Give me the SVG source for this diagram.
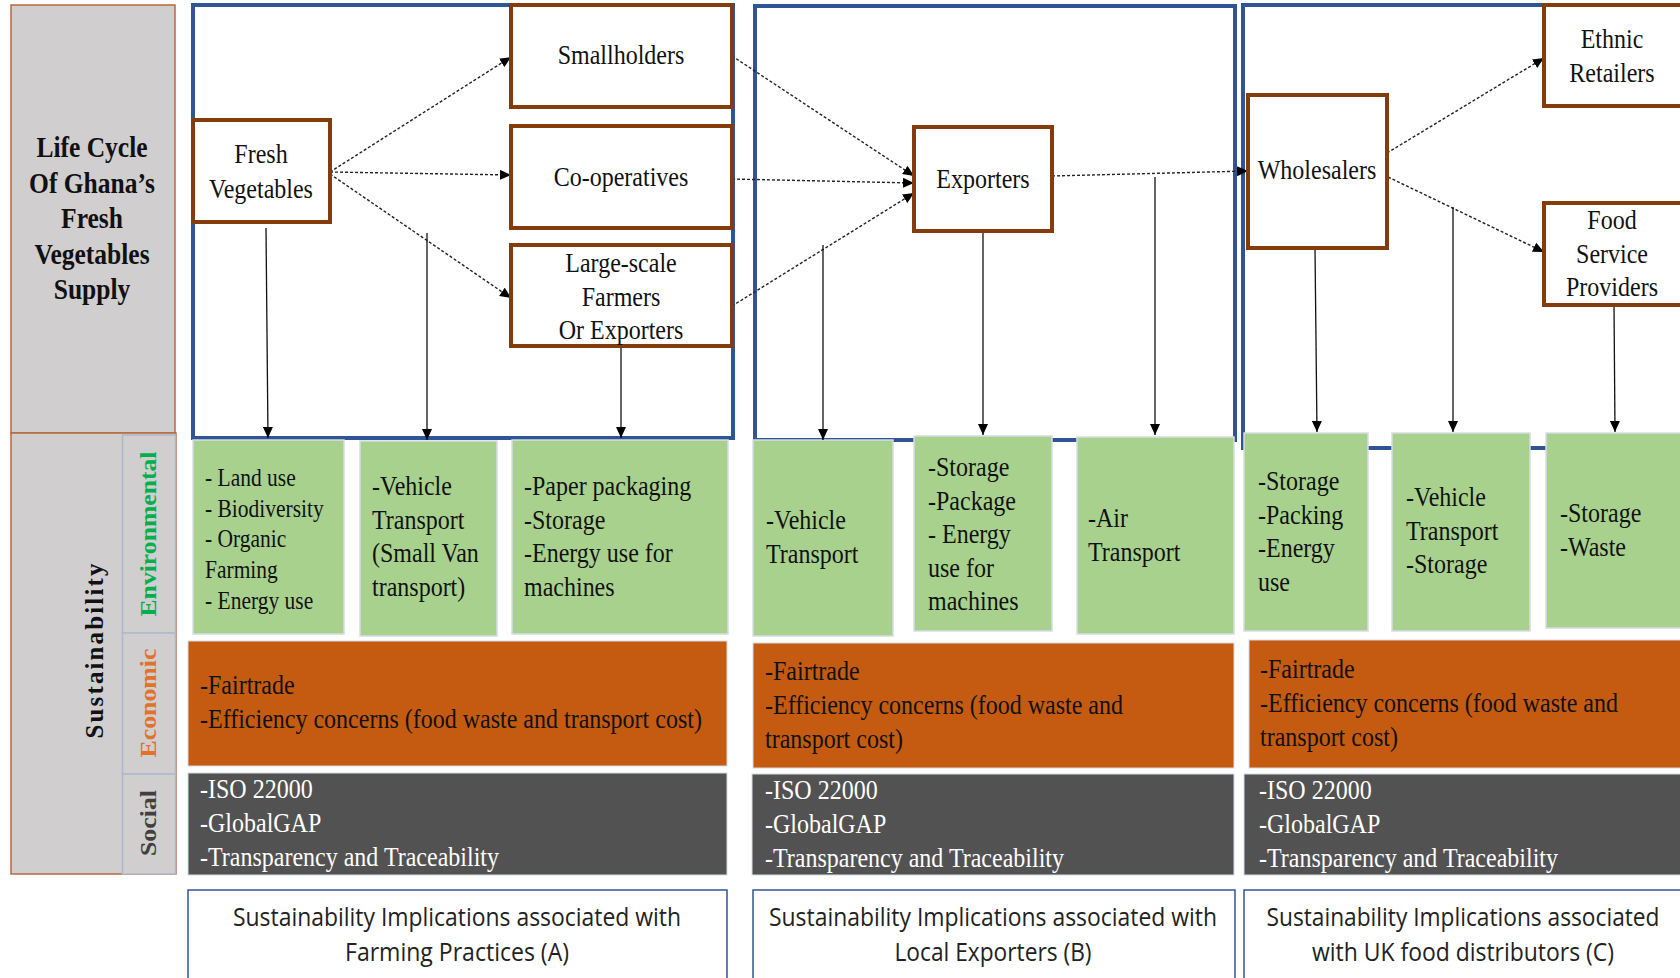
<svg xmlns="http://www.w3.org/2000/svg" width="1680" height="978" viewBox="0 0 1680 978">
<style>
.t{font-family:"Liberation Serif","Times New Roman",serif;font-size:24px;fill:#111}
.tb{font-family:"Liberation Serif","Times New Roman",serif;font-weight:bold;fill:#111}
.w{fill:#fff}
.cap{font-family:"Open Sans","Noto Sans",sans-serif;font-size:22px;fill:#222}
.node{fill:#fff;stroke:#843C0C;stroke-width:4}
.zone{fill:none;stroke:#2F5597;stroke-width:4}
.green{fill:#A9D18E;stroke:#D6DCE5;stroke-width:1.5}
.orange{fill:#C55A11;stroke:#D6DCE5;stroke-width:1}
.dark{fill:#525252;stroke:#D6DCE5;stroke-width:1}
.capbox{fill:#fff;stroke:#2F5597;stroke-width:1.5}
.dash{fill:none;stroke:#222;stroke-width:1.4;stroke-dasharray:3 2;marker-end:url(#ah)}
.solid{fill:none;stroke:#111;stroke-width:1.3;marker-end:url(#ah)}
</style>
<defs>
<marker id="ah" markerUnits="userSpaceOnUse" markerWidth="11" markerHeight="10" refX="11" refY="5" orient="auto">
<path d="M0,0 L11,5 L0,10 z" fill="#000"/>
</marker>
</defs>
<rect x="0" y="0" width="1680" height="978" fill="#fff"/>

<g id="side-panel">
<rect x="11" y="5" width="164" height="428" fill="#D0CECE" stroke="#B86A3C" stroke-width="1.5"/>
<text class="tb" font-size="25.5" text-anchor="middle" transform="translate(92,157) scale(1,1.16)"><tspan x="0" y="0">Life Cycle</tspan><tspan x="0" y="30.7">Of Ghana’s</tspan><tspan x="0" y="61.4">Fresh</tspan><tspan x="0" y="92.1">Vegetables</tspan><tspan x="0" y="122.8">Supply</tspan></text>
<rect x="11" y="433" width="165" height="441" fill="#D0CECE" stroke="#B86A3C" stroke-width="1.5"/>
<rect x="122.5" y="435" width="53" height="198" fill="#D0CECE" stroke="#ADB9CA" stroke-width="1.5"/>
<rect x="122.5" y="633" width="53" height="141" fill="#D0CECE" stroke="#ADB9CA" stroke-width="1.5"/>
<rect x="122.5" y="774" width="53" height="100" fill="#D0CECE" stroke="#ADB9CA" stroke-width="1.5"/>
<text class="tb" font-size="25" text-anchor="middle" textLength="175" transform="translate(103,651) rotate(-90)" x="0" y="0" fill="#1a1a1a">Sustainability</text>
<text class="tb" font-size="23" text-anchor="middle" textLength="165" lengthAdjust="spacingAndGlyphs" transform="translate(156,534) rotate(-90)" x="0" y="0" style="fill:#00B050">Environmental</text>
<text class="tb" font-size="23" text-anchor="middle" textLength="109" lengthAdjust="spacingAndGlyphs" transform="translate(156,703) rotate(-90)" x="0" y="0" style="fill:#E2712B">Economic</text>
<text class="tb" font-size="23" text-anchor="middle" textLength="66" lengthAdjust="spacingAndGlyphs" transform="translate(156,823) rotate(-90)" x="0" y="0" style="fill:#404040">Social</text>
</g>

<g id="zones">
<rect class="zone" x="193" y="5" width="540" height="433"/>
<rect class="zone" x="755" y="6" width="480" height="434"/>
<rect class="zone" x="1243" y="5" width="460" height="443"/>
</g>

<g id="env-impacts">
<g id="env-a1"><rect class="green" x="193" y="440" width="151" height="194"/>
<text class="t" style="font-size:21.5px" transform="translate(205,486) scale(1,1.16)"><tspan x="0" y="0">- Land use</tspan><tspan x="0" y="26.5">- Biodiversity</tspan><tspan x="0" y="53">- Organic</tspan><tspan x="0" y="79.5">Farming</tspan><tspan x="0" y="106">- Energy use</tspan></text></g>
<g id="env-a2"><rect class="green" x="360" y="441" width="137" height="195"/>
<text class="t" transform="translate(372,495) scale(1,1.16)"><tspan x="0" y="0">-Vehicle</tspan><tspan x="0" y="28.9">Transport</tspan><tspan x="0" y="57.8">(Small Van</tspan><tspan x="0" y="86.7">transport)</tspan></text></g>
<g id="env-a3"><rect class="green" x="512" y="440" width="216" height="194"/>
<text class="t" transform="translate(524,495) scale(1,1.16)"><tspan x="0" y="0">-Paper packaging</tspan><tspan x="0" y="28.9">-Storage</tspan><tspan x="0" y="57.8">-Energy use for</tspan><tspan x="0" y="86.7">machines</tspan></text></g>
<g id="env-b1"><rect class="green" x="753" y="440" width="140" height="196"/>
<text class="t" transform="translate(766,529) scale(1,1.16)"><tspan x="0" y="0">-Vehicle</tspan><tspan x="0" y="28.9">Transport</tspan></text></g>
<g id="env-b2"><rect class="green" x="914" y="436" width="138" height="195"/>
<text class="t" transform="translate(928,476) scale(1,1.16)"><tspan x="0" y="0">-Storage</tspan><tspan x="0" y="28.9">-Package</tspan><tspan x="0" y="57.8">- Energy</tspan><tspan x="0" y="86.7">use for</tspan><tspan x="0" y="115.6">machines</tspan></text></g>
<g id="env-b3"><rect class="green" x="1077" y="437" width="157" height="197"/>
<text class="t" transform="translate(1088,527) scale(1,1.16)"><tspan x="0" y="0">-Air</tspan><tspan x="0" y="28.9">Transport</tspan></text></g>
<g id="env-c1"><rect class="green" x="1244" y="433" width="124" height="198"/>
<text class="t" transform="translate(1258,490) scale(1,1.16)"><tspan x="0" y="0">-Storage</tspan><tspan x="0" y="28.9">-Packing</tspan><tspan x="0" y="57.8">-Energy</tspan><tspan x="0" y="86.7">use</tspan></text></g>
<g id="env-c2"><rect class="green" x="1392" y="433" width="138" height="198"/>
<text class="t" transform="translate(1406,506) scale(1,1.16)"><tspan x="0" y="0">-Vehicle</tspan><tspan x="0" y="28.9">Transport</tspan><tspan x="0" y="57.8">-Storage</tspan></text></g>
<g id="env-c3"><rect class="green" x="1546" y="433" width="140" height="195"/>
<text class="t" transform="translate(1560,522) scale(1,1.16)"><tspan x="0" y="0">-Storage</tspan><tspan x="0" y="28.9">-Waste</tspan></text></g>
</g>

<g id="econ-impacts">
<g id="econ-a"><rect class="orange" x="188" y="641" width="539" height="125"/>
<text class="t" transform="translate(200,694) scale(1,1.16)"><tspan x="0" y="0">-Fairtrade</tspan><tspan x="0" y="29.3">-Efficiency concerns (food waste and transport cost)</tspan></text></g>
<g id="econ-b"><rect class="orange" x="753" y="643" width="481" height="125"/>
<text class="t" transform="translate(765,680) scale(1,1.16)"><tspan x="0" y="0">-Fairtrade</tspan><tspan x="0" y="29.3">-Efficiency concerns (food waste and</tspan><tspan x="0" y="58.6">transport cost)</tspan></text></g>
<g id="econ-c"><rect class="orange" x="1249" y="640" width="440" height="128"/>
<text class="t" transform="translate(1260,678) scale(1,1.16)"><tspan x="0" y="0">-Fairtrade</tspan><tspan x="0" y="29.3">-Efficiency concerns (food waste and</tspan><tspan x="0" y="58.6">transport cost)</tspan></text></g>
</g>

<g id="social-impacts">
<g id="soc-a"><rect class="dark" x="188" y="773" width="539" height="102"/>
<text class="t w" transform="translate(200,798) scale(1,1.16)"><tspan x="0" y="0">-ISO 22000</tspan><tspan x="0" y="29.3">-GlobalGAP</tspan><tspan x="0" y="58.6">-Transparency and Traceability</tspan></text></g>
<g id="soc-b"><rect class="dark" x="752" y="774" width="482" height="101"/>
<text class="t w" transform="translate(765,799) scale(1,1.16)"><tspan x="0" y="0">-ISO 22000</tspan><tspan x="0" y="29.3">-GlobalGAP</tspan><tspan x="0" y="58.6">-Transparency and Traceability</tspan></text></g>
<g id="soc-c"><rect class="dark" x="1244" y="774" width="445" height="101"/>
<text class="t w" transform="translate(1259,799) scale(1,1.16)"><tspan x="0" y="0">-ISO 22000</tspan><tspan x="0" y="29.3">-GlobalGAP</tspan><tspan x="0" y="58.6">-Transparency and Traceability</tspan></text></g>
</g>

<g id="captions">
<g id="cap-a"><rect class="capbox" x="188" y="890" width="539" height="100"/>
<text class="cap" text-anchor="middle" transform="translate(457,926) scale(1,1.16)"><tspan x="0" y="0" textLength="448" lengthAdjust="spacingAndGlyphs">Sustainability Implications associated with</tspan><tspan x="0" y="30.2" textLength="224" lengthAdjust="spacingAndGlyphs">Farming Practices (A)</tspan></text></g>
<g id="cap-b"><rect class="capbox" x="753" y="890" width="482" height="100"/>
<text class="cap" text-anchor="middle" transform="translate(993,926) scale(1,1.16)"><tspan x="0" y="0" textLength="448" lengthAdjust="spacingAndGlyphs">Sustainability Implications associated with</tspan><tspan x="0" y="30.2" textLength="197" lengthAdjust="spacingAndGlyphs">Local Exporters (B)</tspan></text></g>
<g id="cap-c"><rect class="capbox" x="1244" y="890" width="460" height="100"/>
<text class="cap" text-anchor="middle" transform="translate(1463,926) scale(1,1.16)"><tspan x="0" y="0" textLength="393" lengthAdjust="spacingAndGlyphs">Sustainability Implications associated</tspan><tspan x="0" y="30.2" textLength="302" lengthAdjust="spacingAndGlyphs">with UK food distributors (C)</tspan></text></g>
</g>

<g id="connectors">
<line class="dash" x1="330" y1="172" x2="511" y2="57"/>
<line class="dash" x1="330" y1="172" x2="511" y2="175"/>
<line class="dash" x1="330" y1="174" x2="511" y2="298"/>
<line class="dash" x1="732" y1="56" x2="914" y2="176"/>
<line class="dash" x1="732" y1="179" x2="914" y2="183"/>
<line class="dash" x1="732" y1="306" x2="914" y2="193"/>
<line class="dash" x1="1052" y1="176" x2="1248" y2="171"/>
<line class="dash" x1="1387" y1="153" x2="1544" y2="58"/>
<line class="dash" x1="1388" y1="177" x2="1544" y2="252"/>
<line class="solid" x1="266" y1="228" x2="268" y2="438"/>
<line class="solid" x1="427" y1="233" x2="427" y2="440"/>
<line class="solid" x1="621" y1="347" x2="621" y2="438"/>
<line class="solid" x1="823" y1="245" x2="823" y2="440"/>
<line class="solid" x1="983" y1="232" x2="983" y2="435"/>
<line class="solid" x1="1155" y1="177" x2="1155" y2="435"/>
<line class="solid" x1="1315" y1="248" x2="1317" y2="432"/>
<line class="solid" x1="1453" y1="207" x2="1453" y2="432"/>
<line class="solid" x1="1614" y1="305" x2="1615" y2="432"/>
</g>

<g id="fresh-vegetables"><rect class="node" x="193" y="120" width="137" height="102"/>
<text class="t" text-anchor="middle" transform="translate(261,163) scale(1,1.16)"><tspan x="0" y="0">Fresh</tspan><tspan x="0" y="30.2">Vegetables</tspan></text></g>
<g id="smallholders"><rect class="node" x="511" y="5" width="221" height="102"/>
<text class="t" text-anchor="middle" transform="translate(621,64) scale(1,1.16)" x="0" y="0">Smallholders</text></g>
<g id="cooperatives"><rect class="node" x="511" y="126" width="221" height="102"/>
<text class="t" text-anchor="middle" transform="translate(621,186) scale(1,1.16)" x="0" y="0">Co-operatives</text></g>
<g id="large-scale"><rect class="node" x="511" y="245" width="221" height="101"/>
<text class="t" text-anchor="middle" transform="translate(621,272) scale(1,1.16)"><tspan x="0" y="0">Large-scale</tspan><tspan x="0" y="28.9">Farmers</tspan><tspan x="0" y="57.8">Or Exporters</tspan></text></g>
<g id="exporters"><rect class="node" x="914" y="127" width="138" height="104"/>
<text class="t" text-anchor="middle" transform="translate(983,188) scale(1,1.16)" x="0" y="0">Exporters</text></g>
<g id="wholesalers"><rect class="node" x="1248" y="95" width="139" height="153"/>
<text class="t" text-anchor="middle" transform="translate(1317,179) scale(1,1.16)" x="0" y="0">Wholesalers</text></g>
<g id="ethnic-retailers"><rect class="node" x="1544" y="5" width="150" height="101"/>
<text class="t" text-anchor="middle" transform="translate(1612,48) scale(1,1.16)"><tspan x="0" y="0">Ethnic</tspan><tspan x="0" y="29.3">Retailers</tspan></text></g>
<g id="food-service"><rect class="node" x="1544" y="203" width="150" height="102"/>
<text class="t" text-anchor="middle" transform="translate(1612,229) scale(1,1.16)"><tspan x="0" y="0">Food</tspan><tspan x="0" y="28.9">Service</tspan><tspan x="0" y="57.8">Providers</tspan></text></g>
</svg>
